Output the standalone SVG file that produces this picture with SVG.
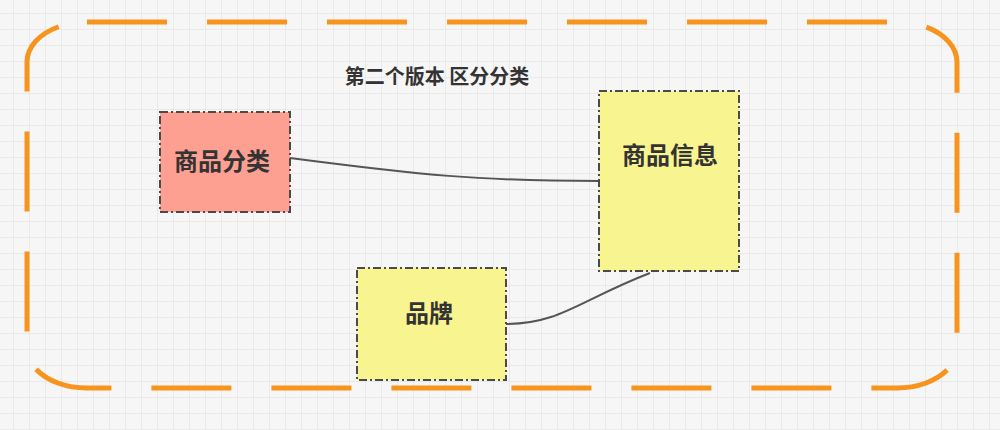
<svg xmlns="http://www.w3.org/2000/svg" width="1000" height="430" viewBox="0 0 1000 430">
<defs>
<pattern id="grid" x="13" y="13" width="16" height="16" patternUnits="userSpaceOnUse">
<path d="M0 0H16M0 0V16" fill="none" stroke="#dedede" stroke-width="1"/>
</pattern>
<style>
.node{stroke:#4a4a4a;stroke-width:2;stroke-dasharray:8 3 2 3}
.lbl{font-family:"Noto Sans CJK SC",sans-serif;font-weight:bold;font-size:24px;fill:#333}
.conn{fill:none;stroke:#555;stroke-width:2}
</style>
</defs>
<rect width="1000" height="430" fill="#f6f6f6"/>
<rect width="1000" height="430" fill="url(#grid)"/>
<rect x="27" y="22" width="930" height="366" rx="60" ry="40" fill="none" stroke="#f7941d" stroke-width="5" stroke-dasharray="80 40"/>
<text x="437" y="84" class="lbl" text-anchor="middle" style="font-size:20px">第二个版本 区分分类</text>
<g id="conns">
<path class="conn" d="M290 158 C420 175 480 181 599 181"/>
<path class="conn" d="M506 324 C560 324 580 300 650 273"/>
</g>
<g id="n1"><rect class="node" x="160" y="112" width="130" height="100" fill="#fd9f91"/><text class="lbl" x="222" y="170" text-anchor="middle">商品分类</text></g>
<g id="n2"><rect class="node" x="599" y="91" width="140" height="180" fill="#f8f48f"/><text class="lbl" x="670" y="164" text-anchor="middle">商品信息</text></g>
<g id="n3"><rect class="node" x="357" y="268" width="149" height="112" fill="#f8f48f"/><text class="lbl" x="429" y="322" text-anchor="middle">品牌</text></g>
</svg>
